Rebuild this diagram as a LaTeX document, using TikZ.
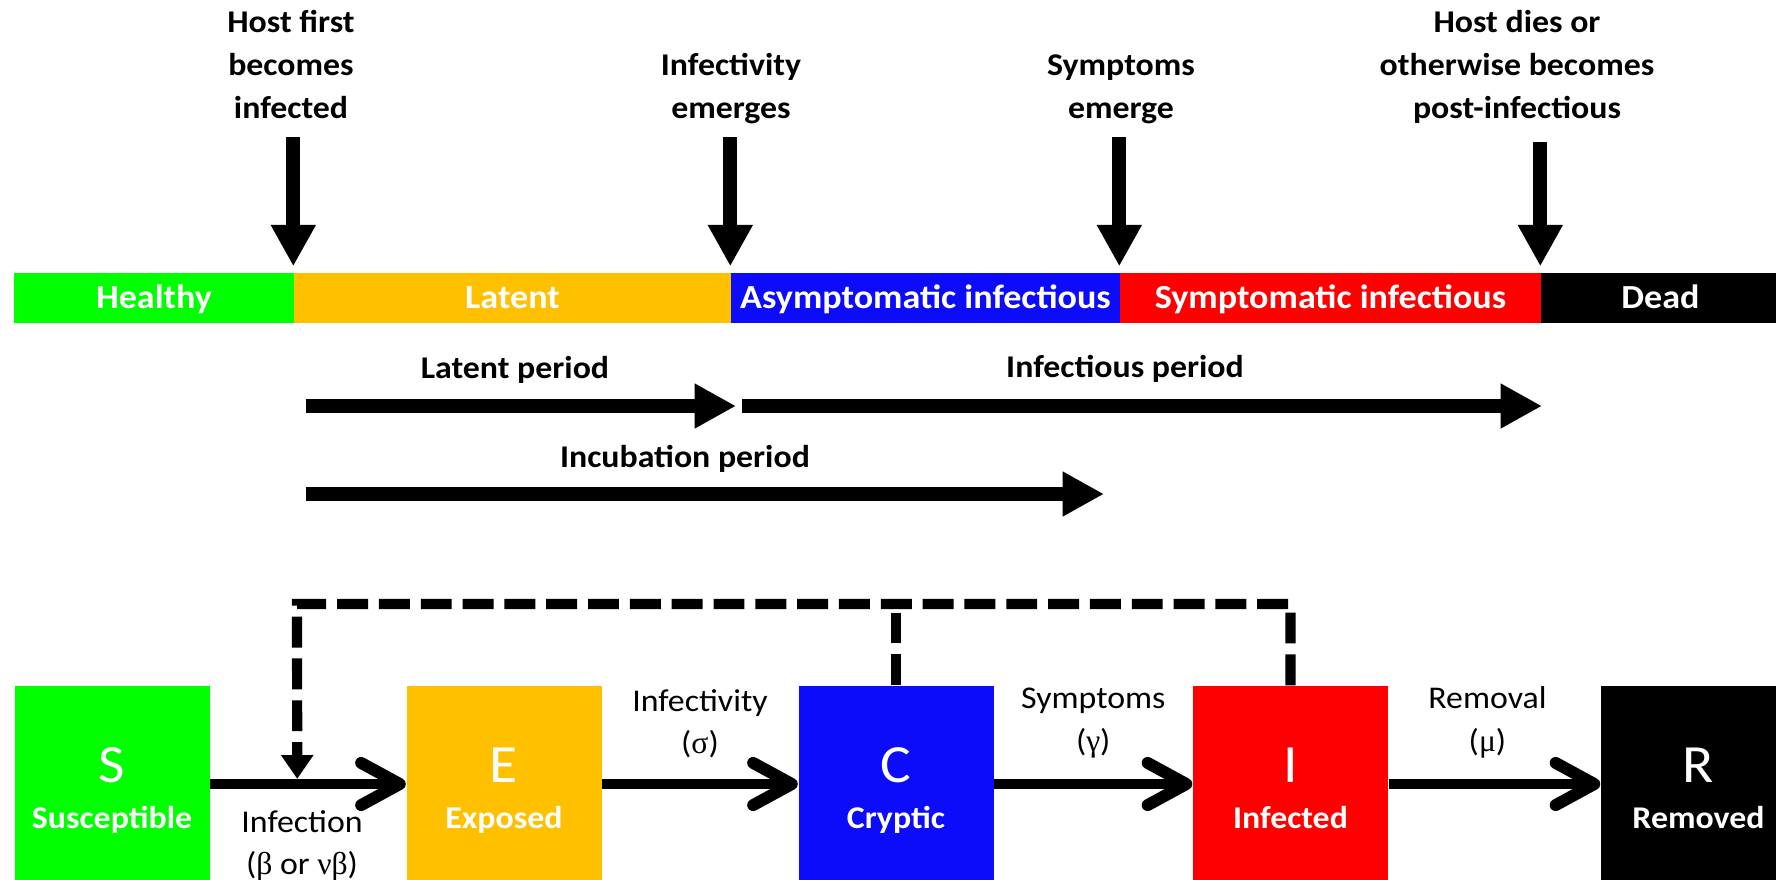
\documentclass[tikz,border=0pt]{standalone}
\usepackage{fontspec}
\setmainfont{Carlito}[FakeStretch=1.07]
\newfontfamily\greekfont{Liberation Serif}
\usetikzlibrary{arrows.meta}
\usetikzlibrary{calc}

\definecolor{hgreen}{RGB}{0,255,0}
\definecolor{lorange}{RGB}{255,192,0}
\definecolor{ablue}{RGB}{12,12,250}
\definecolor{sred}{RGB}{255,0,0}

\newcommand{\gr}[1]{{\greekfont #1}}

\begin{document}
\begin{tikzpicture}[x=0.1mm, y=-0.1mm,
  seg/.style={minimum height=0.5cm, inner sep=0, text=white, text height=6.1pt, text depth=0pt,
    font=\bfseries\fontsize{9.6}{11}\selectfont},
  evt/.style={align=center, inner sep=0, anchor=base, font=\bfseries\fontsize{9}{12.1}\selectfont},
  per/.style={anchor=base, inner sep=0, font=\bfseries\fontsize{9}{11}\selectfont},
  big/.style={line width=4pt, -{Triangle[length=11.8pt, width=12pt]}},
  comp/.style={minimum width=1.95cm, minimum height=1.96cm, inner sep=0},
  ltr/.style={anchor=base, inner sep=0, text=white, font=\fontsize{15.3}{18}\selectfont},
  word/.style={anchor=base, inner sep=0, text=white, font=\bfseries\fontsize{9}{11}\selectfont},
  rate/.style={align=center, inner sep=0, font=\fontsize{9}{12}\selectfont},
  flow/.style={line width=2.9pt, -{Straight Barb[length=11pt, width=12pt, line width=3.4pt, round]}},
  feedback/.style={line width=2.9pt, dash pattern=on 8.8pt off 3.1pt}]
\clip (0,0) rectangle (1776,879);

% timeline bar
\foreach \nm/\cx/\w/\col/\txt in {healthy/154/2.80/hgreen/Healthy, latent/512.5/4.37/lorange/Latent,
    asym/925.5/3.89/ablue/Asymptomatic infectious, symp/1330.5/4.21/sred/Symptomatic infectious,
    dead/1660.5/2.39/black/Dead}
  \node[seg, fill=\col, minimum width=\w cm] (\nm) at (\cx,298) {\txt};

% events (base = last line)
\node[evt] (infected) at (291,118) {Host first\\becomes\\infected};
\node[evt] (emerges) at (731,118) {Infectivity\\emerges};
\node[evt] (symptoms-emerge) at (1121,118) {Symptoms\\emerge};
\node[evt] (post) at (1517,118) {Host dies or\\otherwise becomes\\post-infectious};
\foreach \seg/\top in {latent/137, asym/137, symp/137, dead/142} {
  \coordinate (\seg-top) at (\seg.north west |- 0,\top);
  \draw[big, shorten >=1.7pt] (\seg-top) -- (\seg.north west);
}

% periods
\coordinate (lat0) at (306,406); \coordinate (lat1) at (736,406);
\coordinate (inf0) at (742,406); \coordinate (inf1) at (1542,406);
\coordinate (inc0) at (306,494); \coordinate (inc1) at (1104,494);
\draw[big] (lat0) -- (lat1);
\draw[big] (inf0) -- (inf1);
\draw[big] (inc0) -- (inc1);
\node[per] (latent-period) at (515,378) {Latent period};
\node[per] (infectious-period) at (1125,377) {Infectious period};
\node[per] (incubation-period) at (685,467) {Incubation period};

% compartments
\foreach \nm/\cx/\col/\lbl in {S/112/hgreen/Susceptible, E/504/lorange/Exposed, C/896/ablue/Cryptic,
    I/1290.5/sred/Infected, R/1698.5/black/Removed} {
  \node[comp, fill=\col] (\nm) at (\cx,784) {};
  \node[ltr] (\nm-ltr) at (\cx,782) {\nm};
  \node[word] (\nm-word) at (\cx,828) {\lbl};
}
\draw[flow] (S) -- node[rate, below=6pt, xshift=-1.7pt] (infection) {Infection\\(\gr{β} or \gr{νβ})} (E);
\draw[flow] (E) -- node[rate, above=6pt] (infectivity) {Infectivity\\(\gr{σ})} (C);
\draw[flow] (C) -- node[rate, above=6pt] (symptoms) {Symptoms\\(\gr{γ})} (I);
\draw[flow] (I) -- node[rate, above=6pt, xshift=-2pt] (removal) {Removal\\(\gr{μ})} (R);

% feedback of infectious hosts
\coordinate (fb) at (297,604);
\coordinate (hit) at ($(S.east)!0.445!(E.west)$);
\draw[feedback] (C.north) -- (C.north |- fb);
\draw[feedback, -{Triangle[length=6.8pt, width=8.8pt]}] (I.north) |- (fb) -- ([yshift=1.45pt]hit);
\end{tikzpicture}
\end{document}
